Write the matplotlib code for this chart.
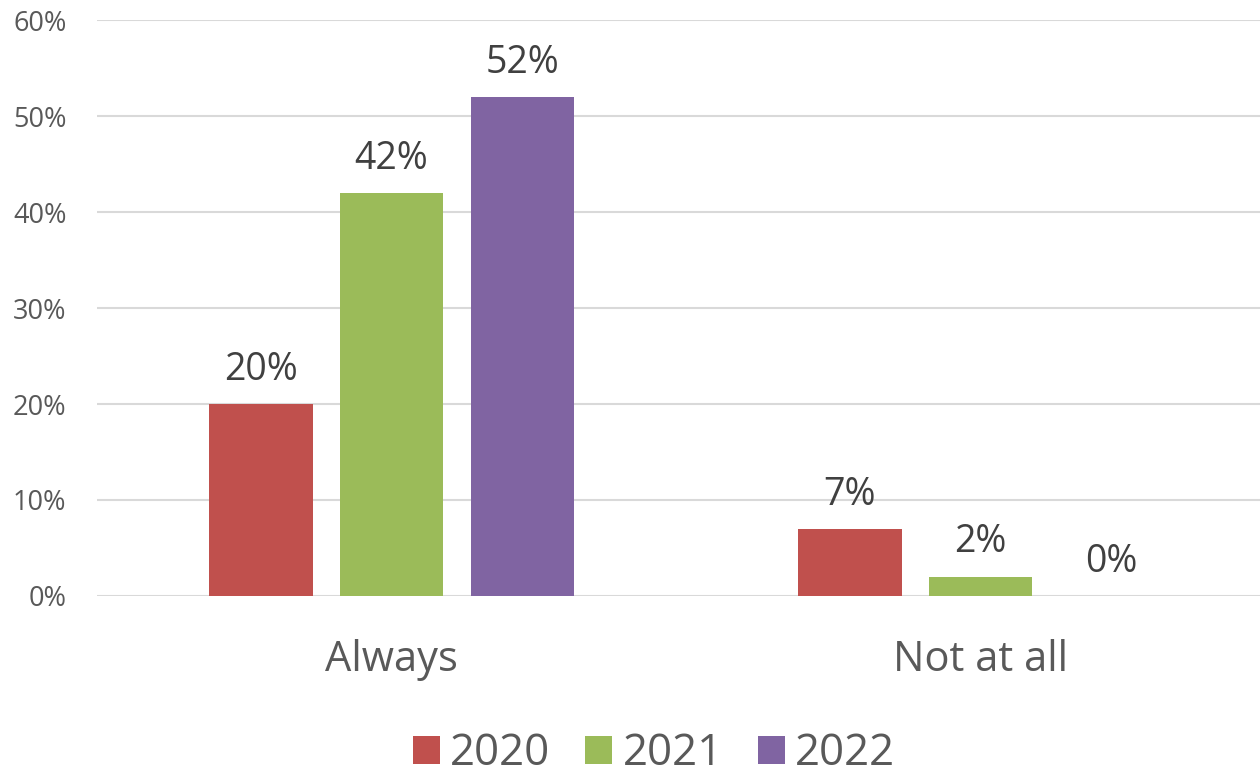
import numpy as np
import matplotlib.pyplot as plt
from matplotlib.patches import Patch

# data
categories = ["Always", "Not at all"]
years = ["2020", "2021", "2022"]
values_2020 = [20, 7]
values_2021 = [42, 2]
values_2022 = [52, 0]
colors = ["#C0504D", "#9BBB59", "#8064A2"]

plt.rcParams["font.family"] = ["Open Sans", "DejaVu Sans"]

fig = plt.figure(figsize=(12.6, 7.78), dpi=100)
ax = fig.add_axes([0.077, 0.234, 0.923, 0.74])

x = np.arange(len(categories))
width = 0.175
step = 0.2216
series = [values_2020, values_2021, values_2022]

for i, (vals, col) in enumerate(zip(series, colors)):
    pos = x + (i - 1) * step
    bars = ax.bar(pos, vals, width=width, color=col, zorder=3)
    for b, v in zip(bars, vals):
        ax.annotate(f"{v}%", (b.get_x() + b.get_width() / 2, v),
                    xytext=(0, 11), textcoords="offset points",
                    ha="center", va="bottom", fontsize=27, color="#404040")

ax.set_xlim(-0.5, 1.4745)
ax.set_ylim(0, 60)
ax.set_yticks(range(0, 61, 10))
ax.set_yticklabels([f"{t}%" for t in range(0, 61, 10)])
ax.set_xticks(x)
ax.set_xticklabels(categories)
ax.tick_params(axis="y", length=0, pad=22, labelsize=19.5, labelcolor="#595959")
ax.tick_params(axis="x", length=0, pad=31, labelsize=30, labelcolor="#595959")
ax.grid(axis="y", color="#D9D9D9", linewidth=1.5, zorder=0)
ax.set_axisbelow(True)
for s in ax.spines.values():
    s.set_visible(False)

handles = [Patch(facecolor=c, label=y) for c, y in zip(colors, years)]
leg = fig.legend(handles=handles, loc="lower center", bbox_to_anchor=(0.519, 0.002),
                 ncol=3, frameon=False, fontsize=31.5, handlelength=0.62,
                 handleheight=0.6, handletextpad=0.23, columnspacing=0.8,
                 borderpad=0, borderaxespad=0)
for t in leg.get_texts():
    t.set_color("#595959")

fig.savefig("out.png", dpi=100)
